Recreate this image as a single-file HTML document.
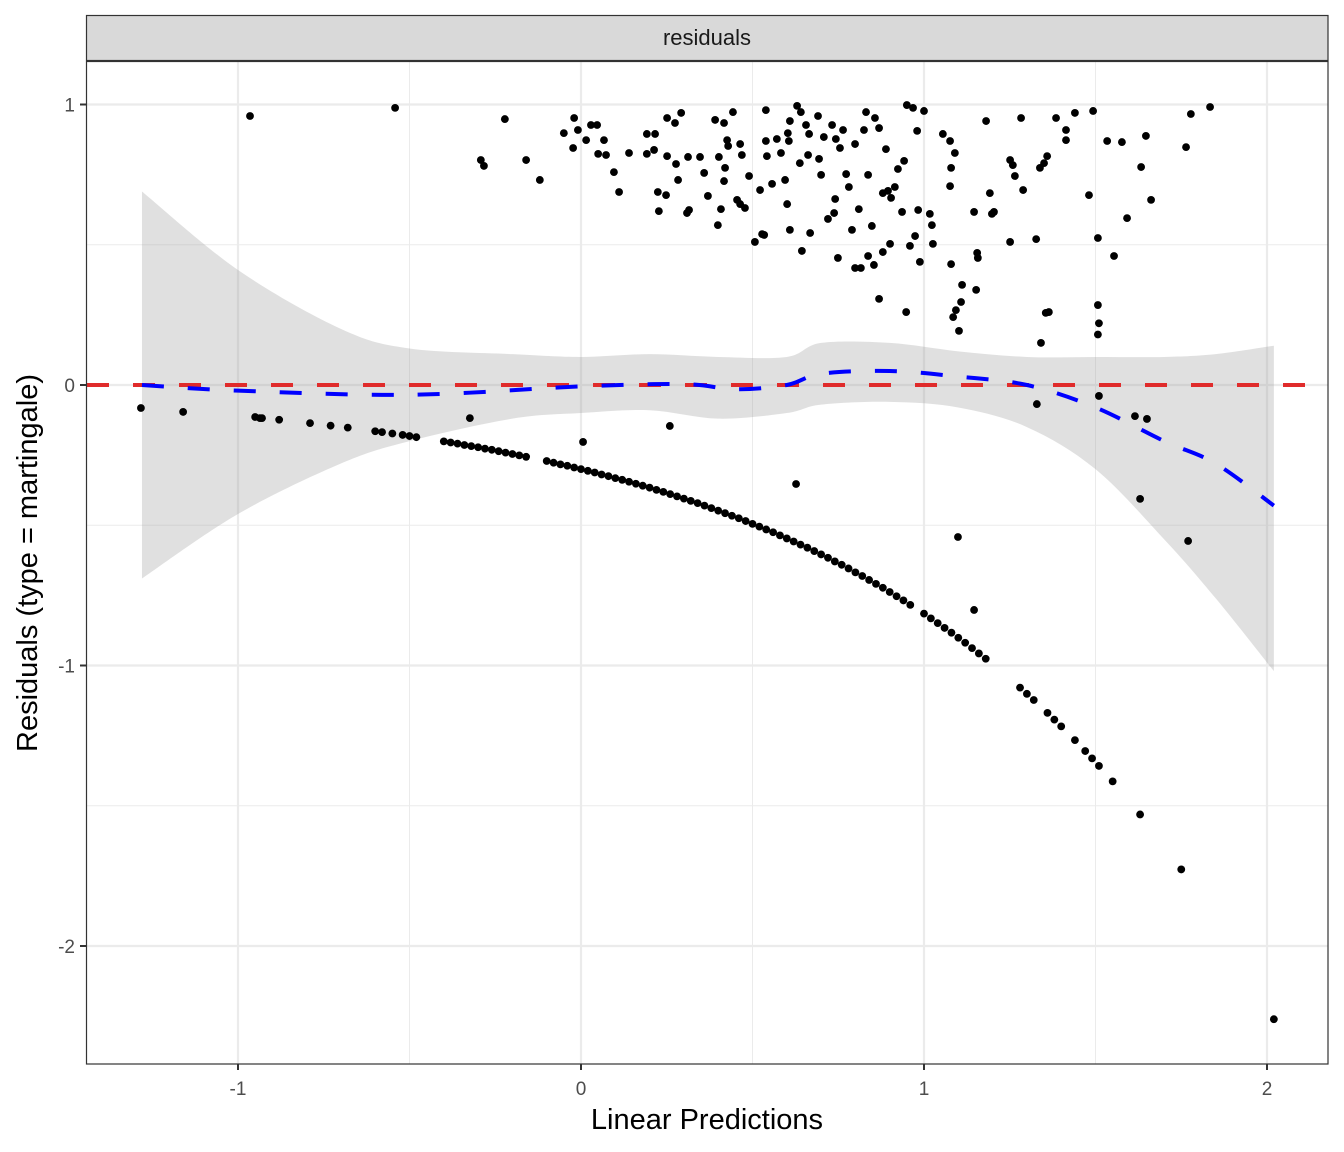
<!DOCTYPE html>
<html><head><meta charset="utf-8"><style>
html,body{margin:0;padding:0;background:#fff;}
svg{display:block;font-family:"Liberation Sans",Arial,sans-serif;}
</style></head><body>
<svg id="chart" width="1344" height="1152" viewBox="0 0 1344 1152">
<rect x="0" y="0" width="1344" height="1152" fill="#fff"/>
<g id="grid"></g>
<g id="ribbon"></g>
<g id="pts"></g>
<g id="lines"></g>
<rect x="86.5" y="61.5" width="1241.5" height="1002.5" fill="none" stroke="#333" stroke-width="1.2"/>
<rect x="86.5" y="15.5" width="1241.5" height="45" fill="#d9d9d9" stroke="#333" stroke-width="1.2"/>
<text x="707" y="45" font-size="22" text-anchor="middle" fill="#1a1a1a">residuals</text>
<g id="axes"></g>
<text x="707" y="1129" font-size="29" text-anchor="middle" fill="#000">Linear Predictions</text>
<text transform="translate(37,563) rotate(-90)" font-size="29" text-anchor="middle" fill="#000">Residuals (type = martingale)</text>
</svg>
<script>
const xTicks=[-1,0,1,2];
const yTicks=[1,0,-1,-2];
const xMinor=[-0.5,0.5,1.5];
const yMinor=[0.5,-0.5,-1.5];
const eventX=[-0.965,-0.542,-0.292,-0.283,-0.222,-0.160,-0.120,-0.050,-0.020,-0.009,-0.023,0.015,0.029,0.047,0.050,0.067,0.073,0.096,0.111,0.140,0.192,0.192,0.216,0.213,0.224,0.227,0.251,0.251,0.248,0.274,0.283,0.292,0.277,0.312,0.315,0.309,0.347,0.359,0.370,0.391,0.402,0.408,0.399,0.417,0.426,0.429,0.420,0.417,0.443,0.464,0.469,0.455,0.464,0.478,0.490,0.507,0.522,0.528,0.534,0.539,0.539,0.542,0.557,0.571,0.583,0.595,0.601,0.609,0.603,0.606,0.609,0.630,0.641,0.638,0.644,0.656,0.662,0.665,0.668,0.691,0.694,0.700,0.708,0.720,0.732,0.741,0.738,0.743,0.755,0.749,0.764,0.773,0.781,0.790,0.799,0.799,0.810,0.816,0.825,0.837,0.831,0.837,0.848,0.854,0.857,0.869,0.869,0.880,0.880,0.889,0.895,0.901,0.904,0.915,0.924,0.936,0.942,0.948,0.950,0.968,0.959,0.974,0.980,0.983,0.988,1.000,1.017,1.023,1.026,1.055,1.076,1.079,1.076,1.079,1.090,1.108,1.111,1.093,1.085,1.102,1.146,1.152,1.157,1.155,1.181,1.192,1.198,1.204,1.251,1.251,1.259,1.265,1.289,1.283,1.327,1.338,1.350,1.359,1.364,1.355,1.385,1.414,1.414,1.440,1.493,1.481,1.507,1.507,1.510,1.507,1.534,1.554,1.577,1.592,1.633,1.647,1.662,1.764,1.778,1.834,1.341];
const eventY=[0.959,0.988,0.802,0.781,0.948,0.802,0.731,0.898,0.952,0.909,0.845,0.873,0.927,0.927,0.824,0.873,0.820,0.759,0.688,0.827,0.895,0.824,0.895,0.838,0.688,0.620,0.952,0.816,0.677,0.934,0.731,0.970,0.788,0.813,0.624,0.613,0.813,0.756,0.674,0.945,0.813,0.627,0.570,0.934,0.873,0.852,0.774,0.727,0.973,0.859,0.820,0.660,0.645,0.631,0.745,0.510,0.695,0.538,0.535,0.980,0.870,0.816,0.717,0.877,0.827,0.731,0.645,0.941,0.898,0.870,0.553,0.995,0.973,0.791,0.478,0.927,0.820,0.895,0.542,0.959,0.806,0.749,0.884,0.592,0.927,0.663,0.613,0.877,0.845,0.453,0.909,0.752,0.706,0.553,0.859,0.417,0.627,0.417,0.909,0.749,0.973,0.460,0.567,0.428,0.952,0.916,0.307,0.684,0.474,0.841,0.692,0.503,0.667,0.706,0.770,0.617,0.799,0.260,0.998,0.988,0.496,0.531,0.906,0.624,0.439,0.977,0.610,0.570,0.503,0.895,0.870,0.774,0.709,0.431,0.827,0.296,0.357,0.267,0.242,0.193,0.617,0.339,0.453,0.471,0.941,0.684,0.610,0.617,0.510,0.802,0.784,0.745,0.695,0.952,0.520,0.774,0.791,0.816,0.260,0.257,0.952,0.873,0.909,0.970,0.977,0.677,0.524,0.285,0.220,0.180,0.870,0.460,0.866,0.595,0.777,0.888,0.660,0.848,0.966,0.991,0.150];
const censX=[-1.283,-1.160,-0.950,-0.936,-0.324,0.006,0.259,0.627,1.329,1.510,1.615,1.650,1.630,1.099,1.146,1.770,-0.93,-0.88,-0.79,-0.73,-0.68,-0.6,-0.58,-0.55,-0.52,-0.5,-0.48,-0.4,-0.38,-0.36,-0.34,-0.32,-0.3,-0.28,-0.26,-0.24,-0.22,-0.2,-0.18,-0.16,-0.1,-0.08,-0.06,-0.04,-0.02,0,0.02,0.04,0.06,0.08,0.1,0.12,0.14,0.16,0.18,0.2,0.22,0.24,0.26,0.28,0.3,0.32,0.34,0.36,0.38,0.4,0.42,0.44,0.46,0.48,0.5,0.52,0.54,0.56,0.58,0.6,0.62,0.64,0.66,0.68,0.7,0.72,0.74,0.76,0.78,0.8,0.82,0.84,0.86,0.88,0.9,0.92,0.94,0.96,1.0,1.02,1.04,1.06,1.08,1.1,1.12,1.14,1.16,1.18,1.28,1.3,1.32,1.36,1.38,1.4,1.44,1.47,1.49,1.51,1.55,1.63,1.75,2.02];
const censY=[-0.082,-0.096,-0.114,-0.118,-0.118,-0.203,-0.146,-0.353,-0.068,-0.039,-0.111,-0.121,-0.406,-0.542,-0.802,-0.556,-0.118,-0.124,-0.136,-0.145,-0.152,-0.165,-0.168,-0.173,-0.178,-0.182,-0.186,-0.201,-0.205,-0.209,-0.214,-0.218,-0.222,-0.227,-0.231,-0.236,-0.241,-0.246,-0.251,-0.256,-0.271,-0.277,-0.283,-0.288,-0.294,-0.300,-0.306,-0.312,-0.319,-0.325,-0.332,-0.338,-0.345,-0.352,-0.359,-0.366,-0.374,-0.381,-0.389,-0.397,-0.405,-0.413,-0.421,-0.430,-0.439,-0.448,-0.457,-0.466,-0.475,-0.485,-0.495,-0.505,-0.515,-0.525,-0.536,-0.547,-0.558,-0.569,-0.580,-0.592,-0.604,-0.616,-0.629,-0.641,-0.654,-0.668,-0.681,-0.695,-0.709,-0.723,-0.738,-0.753,-0.768,-0.784,-0.815,-0.832,-0.849,-0.866,-0.883,-0.901,-0.919,-0.938,-0.957,-0.976,-1.079,-1.101,-1.123,-1.169,-1.193,-1.217,-1.266,-1.305,-1.331,-1.358,-1.413,-1.531,-1.727,-2.261];
const smoothX=[-1.28,-1.0,-0.5,0.0,0.3,0.45,0.6,0.7,0.9,1.1,1.3,1.5,1.7,1.85,2.02];
const smoothY=[0.0,-0.02,-0.035,-0.005,0.003,-0.015,0.0,0.04,0.05,0.03,0.0,-0.08,-0.2,-0.28,-0.43];
const bandX=[-1.28,-1.0,-0.7,-0.5,-0.2,0.0,0.2,0.4,0.6,0.7,0.9,1.1,1.3,1.5,1.7,1.85,2.02];
const bandHi=[0.69,0.41,0.2,0.13,0.11,0.1,0.11,0.1,0.1,0.15,0.15,0.12,0.1,0.1,0.1,0.11,0.14];
const bandLo=[-0.69,-0.46,-0.28,-0.2,-0.12,-0.1,-0.09,-0.12,-0.1,-0.07,-0.06,-0.08,-0.15,-0.3,-0.55,-0.76,-1.02];

const NS='http://www.w3.org/2000/svg';
const sx=v=>581+343*v;
const sy=v=>385-280.5*v;
function mk(tag,attrs,parent){const e=document.createElementNS(NS,tag);for(const k in attrs)e.setAttribute(k,attrs[k]);document.getElementById(parent).appendChild(e);return e;}
function smoothPath(P,move){
  let d=(move?'M':'L')+P[0][0]+','+P[0][1];
  for(let i=0;i<P.length-1;i++){
    const p0=P[Math.max(i-1,0)],p1=P[i],p2=P[i+1],p3=P[Math.min(i+2,P.length-1)];
    const c1x=p1[0]+(p2[0]-p0[0])/6,c1y=p1[1]+(p2[1]-p0[1])/6;
    const c2x=p2[0]-(p3[0]-p1[0])/6,c2y=p2[1]-(p3[1]-p1[1])/6;
    d+='C'+c1x+','+c1y+' '+c2x+','+c2y+' '+p2[0]+','+p2[1];
  }
  return d;
}

xMinor.forEach(v=>{const e=mk('line',{x1:sx(v),x2:sx(v),y1:62,y2:1064,stroke:'#ebebeb','stroke-width':1},'grid');

});
yMinor.forEach(v=>{const e=mk('line',{x1:87,x2:1328,y1:sy(v),y2:sy(v),stroke:'#ebebeb','stroke-width':1},'grid');

});
xTicks.forEach(v=>{const e=mk('line',{x1:sx(v),x2:sx(v),y1:62,y2:1064,stroke:'#ebebeb','stroke-width':2.2},'grid');


const t=mk('line',{x1:sx(v),x2:sx(v),y1:1064,y2:1070,stroke:'#333','stroke-width':2},'axes');


const l=mk('text',{x:sx(v),y:1095,'font-size':19,'text-anchor':'middle',fill:'#4d4d4d'},'axes');l.textContent=v;

});
yTicks.forEach(v=>{const e=mk('line',{x1:87,x2:1328,y1:sy(v),y2:sy(v),stroke:'#ebebeb','stroke-width':2.2},'grid');


const t=mk('line',{x1:80,x2:86,y1:sy(v),y2:sy(v),stroke:'#333','stroke-width':2},'axes');


const l=mk('text',{x:75,y:sy(v)+7,'font-size':19,'text-anchor':'end',fill:'#4d4d4d'},'axes');l.textContent=v;

});

const hiP=bandX.map((v,i)=>[sx(v),sy(bandHi[i])]);
const loP=bandX.map((v,i)=>[sx(v),sy(bandLo[i])]).reverse();
const rb=mk('path',{d:smoothPath(hiP,true)+smoothPath(loP,false)+'Z',fill:'#999','fill-opacity':0.3},'ribbon');



eventX.forEach((v,i)=>{const c=mk('circle',{cx:sx(v),cy:sy(eventY[i]),r:3.9,fill:'#000'},'pts');

});
censX.forEach((v,i)=>{const c=mk('circle',{cx:sx(v),cy:sy(censY[i]),r:3.9,fill:'#000'},'pts');

});

const ref=mk('line',{x1:87,x2:1328,y1:sy(0),y2:sy(0),stroke:'#e02b2b','stroke-width':4,'stroke-dasharray':'22 24'},'lines');


const sm=mk('path',{d:smoothPath(smoothX.map((v,i)=>[sx(v),sy(smoothY[i])]),true),fill:'none',stroke:'#0000ff','stroke-width':4,'stroke-dasharray':'22 24'},'lines');


</script>
</body></html>
